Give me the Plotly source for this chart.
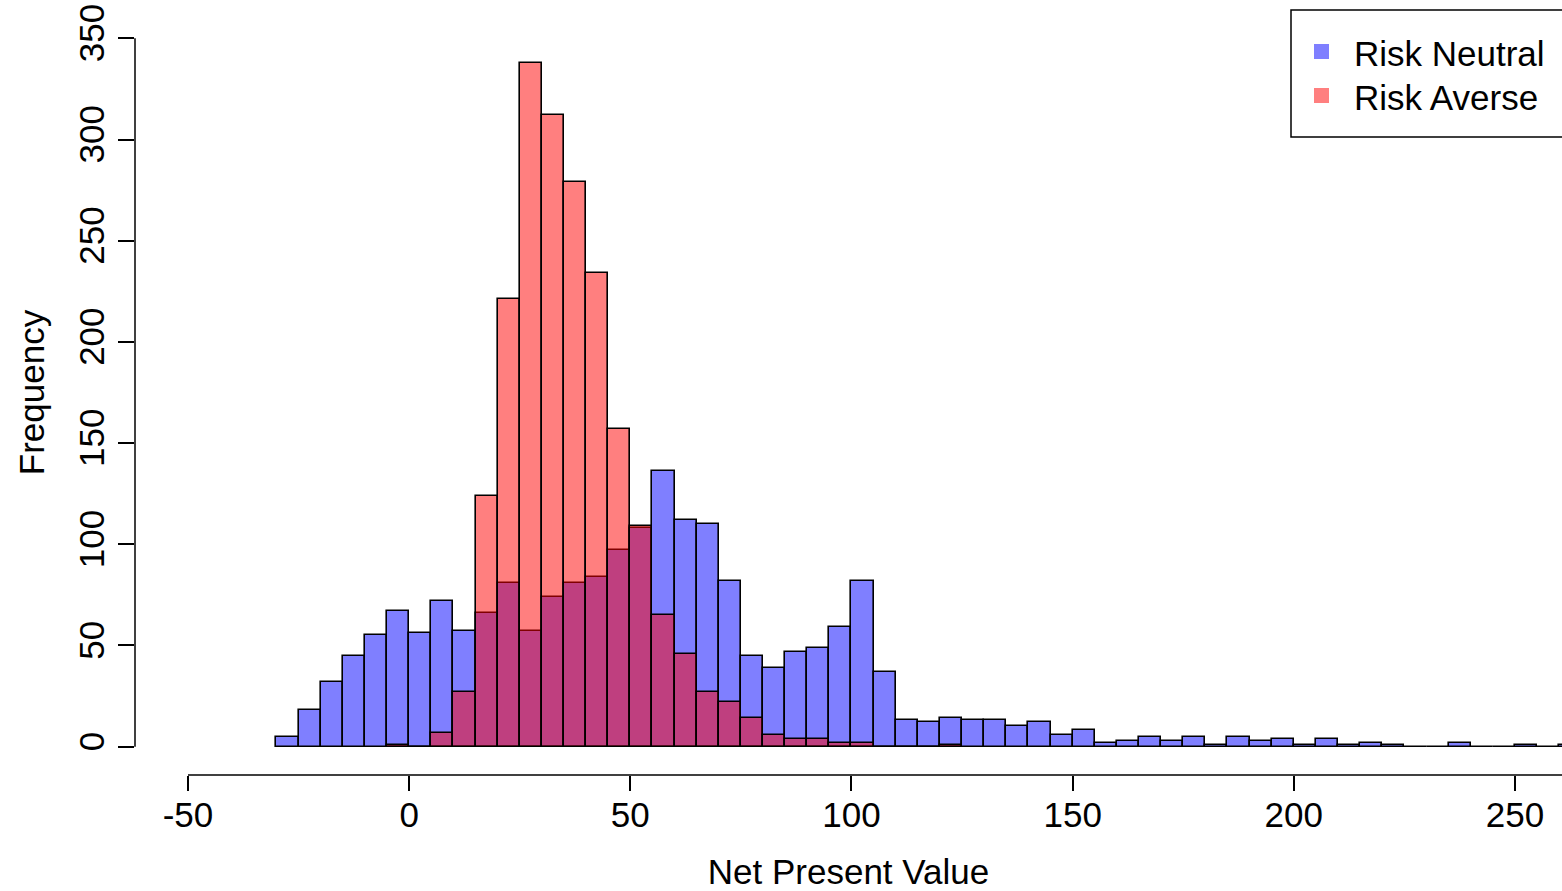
import numpy as np
import plotly.graph_objects as go

# ---------------- data ----------------
bin_width = 5
neutral_first_bin = -30
neutral_counts = [5, 18, 32, 45, 55, 67, 56, 72, 57, 66,
                  81, 57, 74, 81, 84, 97, 108, 136, 112, 110,
                  82, 45, 39, 47, 49, 59, 82, 37, 13, 12,
                  14, 13, 13, 10, 12, 6, 8, 2, 3, 5,
                  3, 5, 1, 5, 3, 4, 1, 4, 1, 2,
                  1, 0, 0, 2, 0, 0, 1, 0, 1]
averse_first_bin = -5
averse_counts = [1, 0, 7, 27, 124, 221, 338, 312, 279, 234,
                 157, 109, 65, 46, 27, 22, 14, 6, 4, 4,
                 2, 2, 0, 0, 0, 1]
series_names = ["Risk Neutral", "Risk Averse"]
x_ticks = [-50, 0, 50, 100, 150, 200, 250]
y_ticks = [0, 50, 100, 150, 200, 250, 300, 350]
x_title = "Net Present Value"
y_title = "Frequency"

# ---------------- layout geometry ----------------
W, H = 1562, 891
ML, MR, MT, MB = 135, 0, 10, 116
x_range = [-61.98, 260.63]
y_range = [-14, 364]
FONT = "Liberation Sans, Arial, sans-serif"
FS = 35

blue_fill = "rgba(0,0,255,0.5)"
red_fill = "rgba(255,0,0,0.5)"

def centers(first, counts):
    return first + bin_width * np.arange(len(counts)) + bin_width / 2

fig = go.Figure()
fig.add_trace(go.Bar(x=centers(neutral_first_bin, neutral_counts), y=neutral_counts,
                     width=bin_width, name=series_names[0],
                     marker=dict(color=blue_fill, line=dict(color="black", width=1.6)),
                     showlegend=False))
fig.add_trace(go.Bar(x=centers(averse_first_bin, averse_counts), y=averse_counts,
                     width=bin_width, name=series_names[1],
                     marker=dict(color=red_fill, line=dict(color="black", width=1.6)),
                     showlegend=False))

pw = W - ML - MR
ph = H - MT - MB

def px_x(px):
    return (px - ML) / pw

def px_y(py):
    return (H - MB - py) / ph

def data_to_paper_x(v):
    return (v - x_range[0]) / (x_range[1] - x_range[0])

def data_to_paper_y(v):
    return (v - y_range[0]) / (y_range[1] - y_range[0])

shapes = [
    # R-style axis lines (only spanning the tick range)
    dict(type="line", xref="paper", yref="paper",
         x0=data_to_paper_x(x_ticks[0]), x1=1.02, y0=0, y1=0,
         line=dict(color="black", width=1.5)),
    dict(type="line", xref="paper", yref="paper",
         x0=0, x1=0, y0=data_to_paper_y(y_ticks[0]), y1=data_to_paper_y(y_ticks[-1]),
         line=dict(color="black", width=1.5)),
    # legend box
    dict(type="rect", xref="paper", yref="paper",
         x0=px_x(1291), x1=px_x(1600), y0=px_y(137), y1=px_y(10),
         line=dict(color="black", width=1.5), fillcolor="white"),
    dict(type="rect", xref="paper", yref="paper",
         x0=px_x(1314), x1=px_x(1329), y0=px_y(59), y1=px_y(44),
         line=dict(width=0), fillcolor=blue_fill),
    dict(type="rect", xref="paper", yref="paper",
         x0=px_x(1314), x1=px_x(1329), y0=px_y(103), y1=px_y(88),
         line=dict(width=0), fillcolor=red_fill),
]

annotations = [
    dict(text=series_names[0], xref="paper", yref="paper", x=px_x(1352), y=px_y(53),
         xanchor="left", yanchor="middle", showarrow=False,
         font=dict(family=FONT, size=FS, color="black")),
    dict(text=series_names[1], xref="paper", yref="paper", x=px_x(1352), y=px_y(97),
         xanchor="left", yanchor="middle", showarrow=False,
         font=dict(family=FONT, size=FS, color="black")),
]

fig.update_layout(
    width=W, height=H,
    margin=dict(l=ML, r=MR, t=MT, b=MB, autoexpand=False),
    paper_bgcolor="white", plot_bgcolor="white",
    barmode="overlay", bargap=0,
    font=dict(family=FONT, size=FS, color="black"),
    shapes=shapes, annotations=annotations,
    xaxis=dict(range=x_range, tickvals=x_ticks, ticktext=[str(v) for v in x_ticks],
               ticks="outside", ticklen=15, tickwidth=1.5, tickcolor="black",
               ticklabelstandoff=-6,
               showline=False, showgrid=False, zeroline=False,
               tickfont=dict(family=FONT, size=FS, color="black"),
               title=dict(text=x_title, standoff=26, font=dict(family=FONT, size=FS)),
               automargin=False, fixedrange=True),
    yaxis=dict(range=y_range, tickvals=y_ticks, ticktext=[str(v) for v in y_ticks],
               ticks="outside", ticklen=16, tickwidth=1.5, tickcolor="black",
               tickangle=-90,
               showline=False, showgrid=False, zeroline=False,
               tickfont=dict(family=FONT, size=FS, color="black"),
               title=dict(text=y_title, standoff=16, font=dict(family=FONT, size=FS)),
               automargin=False, fixedrange=True),
)

fig.write_html("out.html")
